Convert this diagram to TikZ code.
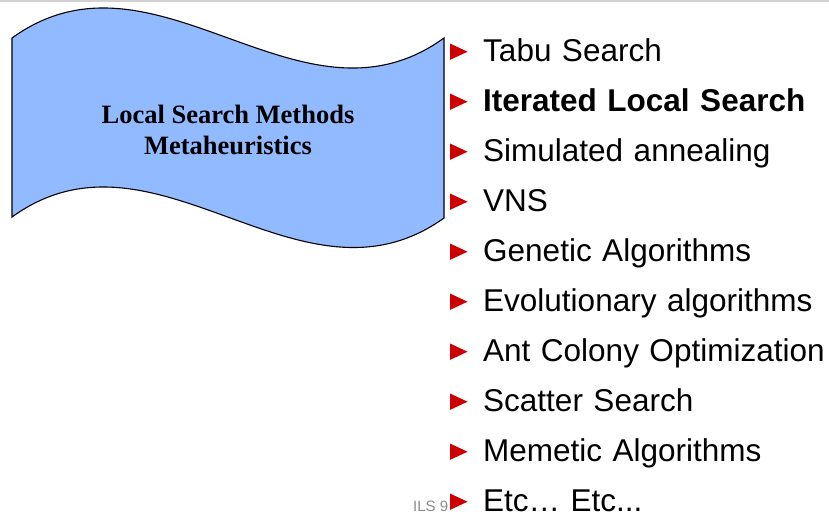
\documentclass[tikz,border=0pt]{standalone}
\usepackage{fontspec}
\setmainfont{Liberation Sans}
\newfontfamily\timesfont{Liberation Serif}
\usetikzlibrary{positioning}
\definecolor{wavefill}{RGB}{146,187,255}
\definecolor{bulletred}{RGB}{204,0,0}

\begin{document}
\begin{tikzpicture}[
x=1pt, y=-1pt,
node distance=24.4pt and 0pt,
item/.style={inner sep=0pt, text width=346pt, align=left, text height=22.6pt, text depth=2.6pt, font=\fontsize{31.5}{38}\selectfont}
]
\useasboundingbox (0,0) rectangle (829,515);
\draw[black!18, line width=1.5pt] (0,0.75) -- (829,0.75);

\filldraw[fill=wavefill, draw=black, line width=1.1pt]
(12,38) .. controls (156,-66) and (300,142) .. (444,38) -- (444,218)
.. controls (300,321) and (156,113) .. (12,217) -- cycle;

\node[align=center, inner sep=0pt, font=\timesfont\bfseries\fontsize{26.5}{31.6}\selectfont] (title) at (228,130)
{Local Search Methods\\Metaheuristics};

\node[anchor=base west, inner sep=0pt, text=black!45, font=\fontsize{15}{18}\selectfont] (slideno) at (413,511) {ILS 9};

\node[item, anchor=base west] (i1) at (483,61.7) {Tabu Search};
\node[item, below=of i1] (i2) {\textbf{Iterated Local Search}};
\node[item, below=of i2] (i3) {Simulated annealing};
\node[item, below=of i3] (i4) {VNS};
\node[item, below=of i4] (i5) {Genetic Algorithms};
\node[item, below=of i5] (i6) {Evolutionary algorithms};
\node[item, below=of i6] (i7) {Ant Colony Optimization};
\node[item, below=of i7] (i8) {Scatter Search};
\node[item, below=of i8] (i9) {Memetic Algorithms};
\node[item, below=of i9] (i10) {Etc… Etc...};

\foreach \n in {1,...,10}
  \fill[bulletred] (i\n.west) ++(-33,-8.2) -- ++(17.5,8.2) -- ++(-17.5,8.2) -- cycle;

\end{tikzpicture}
\end{document}
